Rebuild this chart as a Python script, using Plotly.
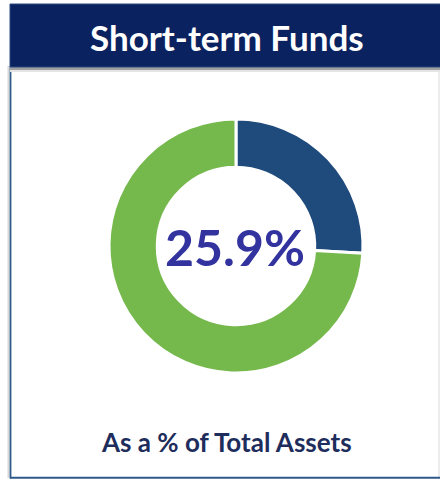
import plotly.graph_objects as go

labels = ["Short-term Funds", "Other Assets"]
values = [25.9, 74.1]
colors = ["#1f4a7c", "#75b84c"]
title_text = "Short-term Funds"
center_text = "25.9%"
footer_text = "As a % of Total Assets"

W, H = 440, 479

def px(x):
    return x / W

def py(y):
    return 1 - y / H

fig = go.Figure()
fig.add_trace(go.Pie(
    labels=labels, values=values, hole=0.62, sort=False, direction="clockwise",
    rotation=0, marker=dict(colors=colors, line=dict(color="white", width=3)),
    textinfo="none", hoverinfo="label+percent", showlegend=False,
    domain=dict(x=[px(109), px(363)], y=[py(373), py(119)]),
))

shapes = [
    # left shadow
    dict(type="line", xref="paper", yref="paper", x0=px(8.5), x1=px(8.5), y0=py(478), y1=py(66),
         line=dict(color="#d8d8d8", width=2), layer="below"),
    # right faint edge
    dict(type="line", xref="paper", yref="paper", x0=px(439), x1=px(439), y0=py(478), y1=py(66),
         line=dict(color="#ececec", width=2), layer="below"),
    # left border
    dict(type="line", xref="paper", yref="paper", x0=px(10.5), x1=px(10.5), y0=py(478.5), y1=py(66),
         line=dict(color="#2e5a8a", width=1.8), layer="below"),
    # bottom border
    dict(type="line", xref="paper", yref="paper", x0=px(10), x1=px(441), y0=py(477.8), y1=py(477.8),
         line=dict(color="#2e5a8a", width=2), layer="below"),
    # header shadow
    dict(type="rect", xref="paper", yref="paper", x0=px(10), x1=px(441), y0=py(72), y1=py(67),
         line=dict(width=0), fillcolor="#e4e4e4", layer="below"),
    dict(type="rect", xref="paper", yref="paper", x0=px(10), x1=px(441), y0=py(70), y1=py(66),
         line=dict(width=0), fillcolor="#a0a0a0", layer="below"),
    # header
    dict(type="rect", xref="paper", yref="paper", x0=px(10), x1=px(441), y0=py(67), y1=py(4),
         line=dict(color="#2b4a80", width=1), fillcolor="#0b2260", layer="below"),
]

annotations = [
    dict(text=title_text, x=px(227), y=py(37), xref="paper", yref="paper", showarrow=False,
         font=dict(family="Lato", size=35, color="white", weight="bold"), xanchor="center", yanchor="middle"),
    dict(text=center_text, x=px(235), y=py(247), xref="paper", yref="paper", showarrow=False,
         font=dict(family="Lato", size=50, color="#3333a0", weight="bold"), xanchor="center", yanchor="middle"),
    dict(text=footer_text, x=px(227), y=py(442), xref="paper", yref="paper", showarrow=False,
         font=dict(family="Lato", size=26, color="#1e2d5c", weight="bold"), xanchor="center", yanchor="middle"),
]

fig.update_layout(
    width=W, height=H, margin=dict(l=0, r=0, t=0, b=0),
    paper_bgcolor="white", plot_bgcolor="white",
    shapes=shapes, annotations=annotations,
)

fig.write_html("out.html", config={"displayModeBar": False},
               post_script="document.body.style.margin='0';document.body.style.overflow='hidden';")
